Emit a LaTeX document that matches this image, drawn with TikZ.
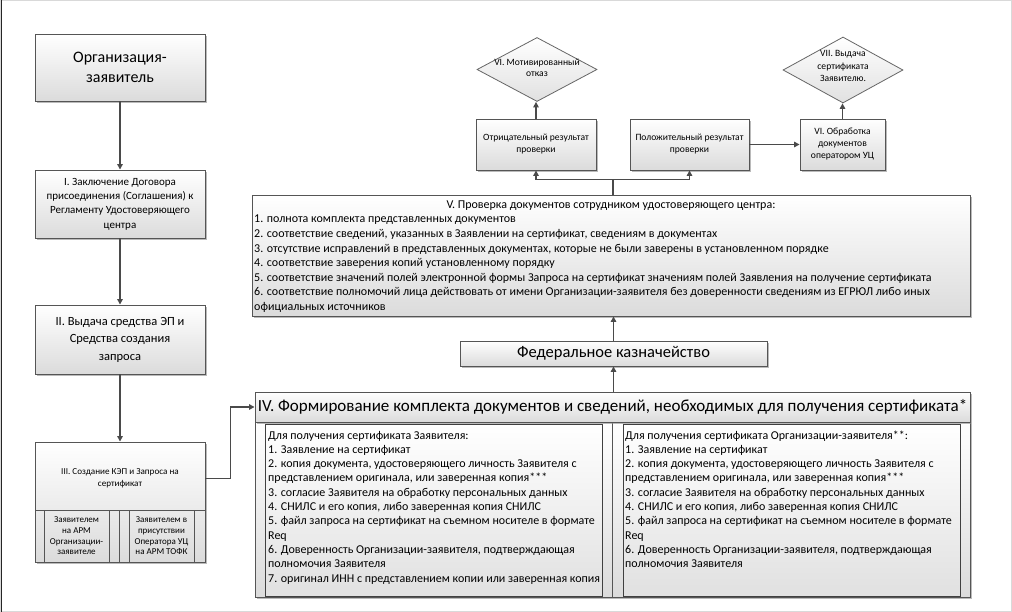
\documentclass[tikz,border=0pt]{standalone}
\usepackage{fontspec}
\setmainfont{Carlito}
\usetikzlibrary{arrows.meta,shadows,calc,shapes.geometric}
\definecolor{ln}{HTML}{4A4A4A}
\definecolor{bd}{HTML}{555555}
\newcommand\myfs[2]{\fontsize{#1}{#2}\selectfont}
\tikzset{
  box/.style={draw=bd, line width=0.9pt, top color=white, bottom color=black!14, inner sep=0pt, align=center,
    drop shadow={shadow xshift=1.6pt, shadow yshift=-1.6pt, fill=black!45, opacity=0.6}},
  tbox/.style={draw=black!75, line width=0.9pt, top color=white, bottom color=black!12, inner sep=0pt},
  dia/.style={diamond, draw=black!60, line width=0.8pt, top color=white, bottom color=black!12, inner sep=0pt},
  arr/.style={draw=ln, line width=1.3pt, -{Triangle[width=5.5pt,length=5.5pt]}},
  lnk/.style={draw=ln, line width=1.3pt},
  cell/.style={draw=bd, line width=0.8pt},
  txt/.style={inner sep=0pt, align=center},
  row/.style={inner sep=0pt, anchor=base west},
}
\begin{document}
\begin{tikzpicture}[x=1pt,y=-1pt]
\useasboundingbox (0,0) rectangle (1012,612);
\fill[white] (0,0) rectangle (1012,612);
\draw[black!15, line width=1pt] (0.5,0.5) rectangle (1011.5,611.5);
\draw[black!85, line width=1.6pt] (1.5,0) -- (1.5,612);

% left column
\node[box, minimum width=170pt, minimum height=67pt, font=\myfs{16}{20}] (org) at (120,67.5) {Организация-\\заявитель};
\node[box, minimum width=170pt, minimum height=68pt, font=\myfs{11}{14.3}] (b1) at (120,204) {I. Заключение Договора\\присоединения (Соглашения) к\\Регламенту Удостоверяющего\\центра};
\node[box, minimum width=170pt, minimum height=69pt, font=\myfs{12.5}{17.5}] (b2) at (120,339.5) {II. Выдача средства ЭП и\\Средства создания\\запроса};
\node[box, minimum width=170pt, minimum height=120pt] (b3) at (120,502) {};
\node[txt, font=\myfs{9.1}{11.5}] (b3t) at (120,478.5) {III. Создание КЭП и Запроса на\\сертификат};
\draw[cell] (35,510) -- (205,510);
\foreach \xx in {44,109,119,129,194} \draw[cell] (\xx,510) -- (\xx,562);
\node[txt, font=\myfs{9}{10.7}] (c1) at (76.5,536) {Заявителем\\на АРМ\\Организации-\\заявителе};
\node[txt, font=\myfs{9}{10.7}] (c2) at (161.5,536) {Заявителем в\\присутствии\\Оператора УЦ\\на АРМ ТОФК};

\draw[arr] (org.south) -- (b1.north);
\draw[arr] (b1.south) -- (b2.north);
\draw[arr] (b2.south) -- (b3.north);

% box IV
\node[box, minimum width=715pt, minimum height=175pt] (b4) at (612.5,509.5) {};
\node[tbox, minimum width=337pt, minimum height=172pt, anchor=north west] (lb) at (265,423.5) {};
\node[tbox, minimum width=337pt, minimum height=172pt, anchor=north west] (rb) at (623,423.5) {};
\draw[cell] (612,422) -- (612,597);
\node[box, minimum width=715pt, minimum height=30pt, font=\myfs{17}{20}] (b4h) at (612.5,407) {IV. Формирование комплекта документов и сведений, необходимых для получения сертификата*};

\foreach \tt [count=\i] in {
  {Для получения сертификата Заявителя:},
  {1. Заявление на сертификат},
  {2. копия документа, удостоверяющего личность Заявителя с},
  {представлением оригинала, или заверенная копия***},
  {3. согласие Заявителя на обработку персональных данных},
  {4. СНИЛС и его копия, либо заверенная копия СНИЛС},
  {5. файл запроса на сертификат на съемном носителе в формате},
  {Req},
  {6. Доверенность Организации-заявителя, подтверждающая},
  {полномочия Заявителя},
  {7. оригинал ИНН с представлением копии или заверенная копия}}
  \node[row, font=\myfs{12}{14}] (l\i) at (268,{439+14.3*(\i-1)}) {\tt};

\foreach \tt [count=\i] in {
  {Для получения сертификата Организации-заявителя**:},
  {1. Заявление на сертификат},
  {2. копия документа, удостоверяющего личность Заявителя с},
  {представлением оригинала, или заверенная копия***},
  {3. согласие Заявителя на обработку персональных данных},
  {4. СНИЛС и его копия, либо заверенная копия СНИЛС},
  {5. файл запроса на сертификат на съемном носителе в формате},
  {Req},
  {6. Доверенность Организации-заявителя, подтверждающая},
  {полномочия Заявителя}}
  \node[row, font=\myfs{12}{14}] (r\i) at (625,{439+14.3*(\i-1)}) {\tt};

\draw[arr] (b3t -| b3.east) -- ++(25,0) |- (b4h.west);

% federal treasury
\node[box, minimum width=307pt, minimum height=25pt, font=\myfs{16.5}{19}] (fed) at (613.5,353.5) {Федеральное казначейство};
\draw[arr] (b4h.north -| fed.south) -- (fed.south);

% box V
\node[box, minimum width=718pt, minimum height=121pt] (v) at (611,255.5) {};
\node[txt, font=\myfs{12}{14}] (vt) at (611,206) {V. Проверка документов сотрудником удостоверяющего центра:};
\foreach \tt [count=\i] in {
  {1. полнота комплекта представленных документов},
  {2. соответствие сведений, указанных в Заявлении на сертификат, сведениям в документах},
  {3. отсутствие исправлений в представленных документах, которые не были заверены в установленном порядке},
  {4. соответствие заверения копий установленному порядку},
  {5. соответствие значений полей электронной формы Запроса на сертификат значениям полей Заявления на получение сертификата},
  {6. соответствие полномочий лица действовать от имени Организации-заявителя без доверенности сведениям из ЕГРЮЛ либо иных},
  {официальных источников}}
  \node[row, font=\myfs{12}{14}] (vl\i) at (254,{223+14.6*(\i-1)}) {\tt};
\draw[arr] (fed.north) -- (fed.north |- v.south);

% results
\node[box, minimum width=120pt, minimum height=51pt, font=\myfs{9.6}{12}] (neg) at (536,144.5) {Отрицательный результат\\проверки};
\node[box, minimum width=119pt, minimum height=51pt, font=\myfs{9.6}{12}] (pos) at (689.5,144.5) {Положительный результат\\проверки};
\node[box, minimum width=85pt, minimum height=51pt, font=\myfs{9.6}{12}] (vi) at (842.5,144.5) {VI. Обработка\\документов\\оператором УЦ};
\coordinate (br) at ($(v.north)+(2,-15)$);
\draw[lnk] (v.north -| br) -- (br);
\draw[arr] (br) -| (neg.south);
\draw[arr] (br) -| (pos.south);
\draw[arr] (pos.east) -- (vi.west);

% diamonds
\node[dia, minimum width=120pt, minimum height=64pt] (d1) at (537,69.5) {};
\node[txt, font=\myfs{9.6}{10.7}] (d1t) at (537,68) {VI. Мотивированный\\отказ};
\node[dia, minimum width=120pt, minimum height=66pt] (d2) at (843,70) {};
\node[txt, font=\myfs{9.6}{12.5}] (d2t) at (843,66) {VII. Выдача\\сертификата\\Заявителю.};
\draw[arr] (neg.north) -- (neg.north |- d1.south);
\draw[arr] (vi.north) -- (vi.north |- d2.south);
\end{tikzpicture}
\end{document}
